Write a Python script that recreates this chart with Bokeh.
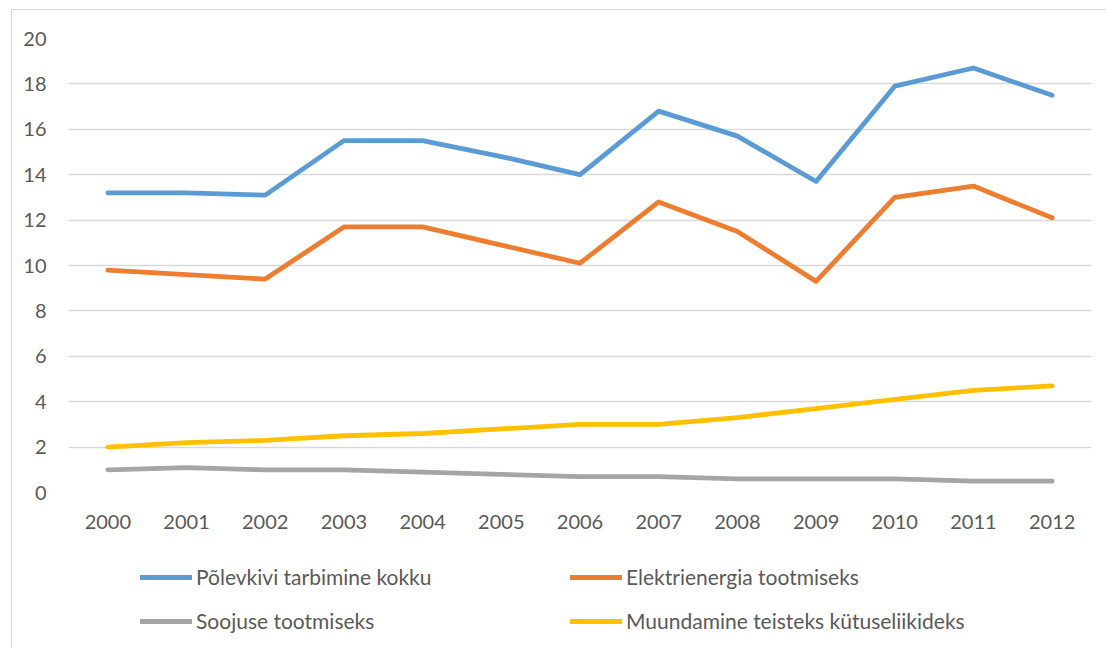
from bokeh.plotting import figure
from bokeh.layouts import column
from bokeh.models import Legend, LegendItem, FixedTicker, FactorRange
from bokeh.embed import file_html
from bokeh.resources import INLINE

years = ["2000", "2001", "2002", "2003", "2004", "2005", "2006",
         "2007", "2008", "2009", "2010", "2011", "2012"]
total = [13.2, 13.2, 13.1, 15.5, 15.5, 14.8, 14.0, 16.8, 15.7, 13.7, 17.9, 18.7, 17.5]
electricity = [9.8, 9.6, 9.4, 11.7, 11.7, 10.9, 10.1, 12.8, 11.5, 9.3, 13.0, 13.5, 12.1]
heat = [1.0, 1.1, 1.0, 1.0, 0.9, 0.8, 0.7, 0.7, 0.6, 0.6, 0.6, 0.5, 0.5]
conversion = [2.0, 2.2, 2.3, 2.5, 2.6, 2.8, 3.0, 3.0, 3.3, 3.7, 4.1, 4.5, 4.7]
names = ["Põlevkivi tarbimine kokku", "Elektrienergia tootmiseks",
         "Soojuse tootmiseks", "Muundamine teisteks kütuseliikideks"]
colors = ["#5B9BD5", "#ED7D31", "#A5A5A5", "#FFC000"]
y_ticks = list(range(0, 21, 2))

FONT = "Lato"
TXT = "#595959"
LW = 4.8

W, H = 1094, 540
p = figure(x_range=years, y_range=(0, 20), width=W, height=H,
           output_backend="svg", toolbar_location=None,
           min_border_left=56, min_border_top=28,
           min_border_right=W - 1079, min_border_bottom=H - 482)
p.outline_line_color = None
p.background_fill_color = "white"
p.border_fill_color = "white"

p.xgrid.grid_line_color = None
p.ygrid.grid_line_color = "#D9D9D9"
p.ygrid.grid_line_width = 1.3
p.yaxis.ticker = FixedTicker(ticks=y_ticks)

for ax in (p.xaxis, p.yaxis):
    ax.axis_line_color = None
    ax.major_tick_line_color = None
    ax.minor_tick_line_color = None
    ax.major_label_text_font = FONT
    ax.major_label_text_font_size = "20px"
    ax.major_label_text_color = TXT
p.yaxis.major_label_standoff = 16
p.xaxis.major_label_standoff = 16

series = [total, electricity, heat, conversion]
for vals, c in zip(series, colors):
    p.line(years, vals, line_color=c, line_width=LW, line_cap="round", line_join="round")

# legend panel below the chart (its lines lie outside its visible y range)
LH = 98
leg = figure(width=W, height=LH, output_backend="svg", toolbar_location=None,
             x_axis_location=None, y_axis_location=None,
             min_border=0, x_range=FactorRange(*years), y_range=(100, 101))
leg.outline_line_color = None
leg.grid.grid_line_color = None
leg.border_fill_color = "white"

proxies = [leg.line(years, vals, line_color=c, line_width=LW, line_cap="round")
           for vals, c in zip(series, colors)]

def make_legend(idx, x):
    return Legend(items=[LegendItem(label=names[i], renderers=[proxies[i]]) for i in idx],
                  location=(x, 15), orientation="vertical",
                  glyph_width=52, glyph_height=22, label_height=22, spacing=19,
                  label_standoff=4, padding=0, margin=0,
                  border_line_color=None, background_fill_alpha=0,
                  label_text_font=FONT, label_text_font_size="21px",
                  label_text_color=TXT)

leg.add_layout(make_legend([0, 2], 72), "center")
leg.add_layout(make_legend([1, 3], 502), "center")

layout = column(p, leg, spacing=0)
layout.margin = (9, 0, 0, 11)
layout.styles = {"border-left": "1px solid #D9D9D9", "border-top": "1px solid #D9D9D9"}

open("out.html", "w").write(file_html(layout, INLINE))
